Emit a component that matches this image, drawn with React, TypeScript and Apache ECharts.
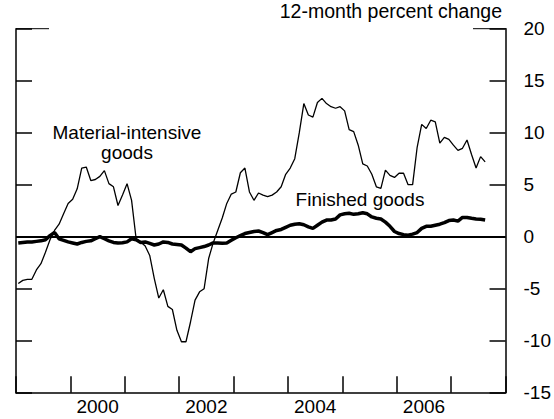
import React, { useEffect, useRef } from "react";
import * as echarts from "echarts";

// Monthly, Jan 1999 .. Aug 2007 (12-month percent change)
const startYear = 1999;
const materialIntensive = [
  -4.5, -4.2, -4.1, -4.1, -3.2, -2.6, -1.5, -0.3, 0.6, 1.2, 2.2, 3.2,
  3.6, 4.6, 6.6, 6.7, 5.4, 5.5, 5.8, 6.35, 5.1, 4.8, 3.0, 4.0,
  5.1, 3.5, -0.2, -0.5, -0.9, -1.8, -4.0, -5.9, -5.1, -6.7, -7.0, -9.0,
  -10.1, -10.1, -8.2, -6.1, -5.3, -5.0, -2.1, -0.6, 0.6, 1.8, 3.2, 4.1,
  4.3, 6.15, 6.6, 4.3, 3.5, 4.2, 4.0, 3.85, 4.0, 4.3, 4.8, 6.0,
  6.6, 7.5, 10.0, 12.8, 11.7, 11.5, 12.9, 13.3, 12.8, 12.5, 12.35, 12.5,
  12.1, 10.3, 10.1, 8.8, 7.0, 6.8, 6.0, 4.8, 4.65, 6.4, 5.9, 5.7,
  6.1, 6.1, 5.0, 5.0, 8.6, 10.8, 10.4, 11.2, 11.05, 9.0, 9.55, 9.35,
  8.8, 8.3, 8.5, 9.3, 7.9, 6.6, 7.7, 7.2,
];
const finishedGoods = [
  -0.6, -0.55, -0.5, -0.5, -0.45, -0.4, -0.3, 0.1, 0.4, -0.2, -0.35, -0.5,
  -0.6, -0.7, -0.55, -0.45, -0.4, -0.2, 0.0, -0.2, -0.4, -0.55, -0.6, -0.58,
  -0.5, -0.2, -0.3, -0.55, -0.5, -0.65, -0.8, -0.7, -0.5, -0.55, -0.7, -0.75,
  -0.8, -1.1, -1.44, -1.15, -1.05, -0.95, -0.8, -0.6, -0.6, -0.62, -0.6, -0.35,
  -0.1, 0.1, 0.3, 0.4, 0.5, 0.55, 0.4, 0.2, 0.4, 0.6, 0.7, 0.9,
  1.1, 1.2, 1.25, 1.15, 0.95, 0.8, 1.1, 1.4, 1.6, 1.6, 1.7, 2.1,
  2.2, 2.25, 2.15, 2.2, 2.3, 2.2, 1.9, 1.77, 1.7, 1.4, 1.0, 0.5,
  0.3, 0.2, 0.15, 0.25, 0.4, 0.8, 1.0, 1.0, 1.1, 1.2, 1.35, 1.55,
  1.6, 1.5, 1.85, 1.85, 1.77, 1.7, 1.67, 1.6,
];
const yTicks = { min: -15, max: 20, step: 5 };
const monthsShown = 108; // 1999 .. 2007 inclusive
const labelYears = [2000, 2002, 2004, 2006];

const FONT = "'Liberation Sans', Arial, sans-serif";

function toPoints(arr: number[]) {
  return arr.map((v, i) => [i + 0.5, v]);
}

export default function App() {
  const ref = useRef<HTMLDivElement>(null);
  useEffect(() => {
    if (!ref.current) return;
    const chart = echarts.init(ref.current, undefined, { renderer: "svg" });
    const gridLeft = 16;
    const gridRight = 48;
    const gridTop = 28.7;
    const W = 554;
    const axisColor = "#000";
    chart.setOption({
      animation: false,
      backgroundColor: "#fff",
      textStyle: { fontFamily: FONT },
      title: {
        text: "12-month percent change",
        right: 52,
        top: 1,
        padding: 0,
        textStyle: { fontFamily: FONT, fontSize: 19.5, fontWeight: "normal", color: "#000", lineHeight: 19 },
      },
      grid: { left: gridLeft, right: gridRight, top: gridTop, bottom: 26.3, containLabel: false },
      xAxis: [
        {
          type: "value",
          min: 0,
          max: monthsShown,
          interval: 12,
          position: "bottom",
          axisLine: { show: true, onZero: false, lineStyle: { color: axisColor, width: 1.5 } },
          axisTick: { show: true, inside: true, length: 16.5, lineStyle: { color: axisColor, width: 1.5 } },
          axisLabel: { show: false },
          splitLine: { show: false },
        },
        {
          type: "value",
          min: 0,
          max: monthsShown,
          interval: 6,
          position: "bottom",
          axisLine: { show: false, onZero: false },
          axisTick: { show: false },
          splitLine: { show: false },
          axisLabel: {
            show: true,
            margin: 4,
            fontSize: 19,
            color: "#000",
            fontFamily: FONT,
            formatter: (v: number) => {
              const y = startYear + Math.floor(v / 12);
              return v % 12 === 6 && labelYears.includes(y) ? String(y) : "";
            },
          },
        },
      ],
      yAxis: [
        {
          type: "value",
          position: "right",
          min: yTicks.min,
          max: yTicks.max,
          interval: yTicks.step,
          axisLine: { show: true, onZero: false, lineStyle: { color: axisColor, width: 1.5 } },
          axisTick: { show: true, inside: true, length: 16, lineStyle: { color: axisColor, width: 1.5 } },
          axisLabel: { show: true, margin: 18, fontSize: 19, color: "#000", fontFamily: FONT },
          splitLine: { show: false },
        },
        {
          type: "value",
          position: "left",
          min: yTicks.min,
          max: yTicks.max,
          interval: yTicks.step,
          axisLine: { show: true, onZero: false, lineStyle: { color: axisColor, width: 1.5 } },
          axisTick: { show: true, inside: true, length: 16, lineStyle: { color: axisColor, width: 1.5 } },
          axisLabel: { show: false },
          splitLine: { show: false },
        },
      ],
      series: [
        {
          name: "Material-intensive goods",
          type: "line",
          xAxisIndex: 0,
          yAxisIndex: 0,
          data: toPoints(materialIntensive),
          symbol: "none",
          lineStyle: { color: "#000", width: 1.3 },
          markLine: {
            silent: true,
            symbol: "none",
            label: { show: false },
            lineStyle: { color: "#000", width: 2, type: "solid" },
            data: [{ yAxis: 0 }],
          },
        },
        {
          name: "Finished goods",
          type: "line",
          xAxisIndex: 0,
          yAxisIndex: 0,
          data: toPoints(finishedGoods),
          symbol: "none",
          lineStyle: { color: "#000", width: 3.5 },
        },
      ],
      graphic: [
        { type: "line", shape: { x1: gridLeft, y1: gridTop, x2: 49, y2: gridTop }, style: { stroke: "#000", lineWidth: 1 } },
        { type: "line", shape: { x1: 473, y1: gridTop, x2: W - gridRight, y2: gridTop }, style: { stroke: "#000", lineWidth: 1 } },
        {
          type: "text",
          x: 127,
          y: 142,
          style: {
            text: "Material-intensive\ngoods",
            fontFamily: FONT,
            fontSize: 19,
            lineHeight: 20,
            fill: "#000",
            align: "center",
            verticalAlign: "middle",
          },
        },
        {
          type: "text",
          x: 360,
          y: 199,
          style: {
            text: "Finished goods",
            fontFamily: FONT,
            fontSize: 19,
            fill: "#000",
            align: "center",
            verticalAlign: "middle",
          },
        },
      ],
    });
    return () => chart.dispose();
  }, []);
  return <div ref={ref} style={{ position: "fixed", left: 0, top: 0, width: 554, height: 419 }} />;
}
